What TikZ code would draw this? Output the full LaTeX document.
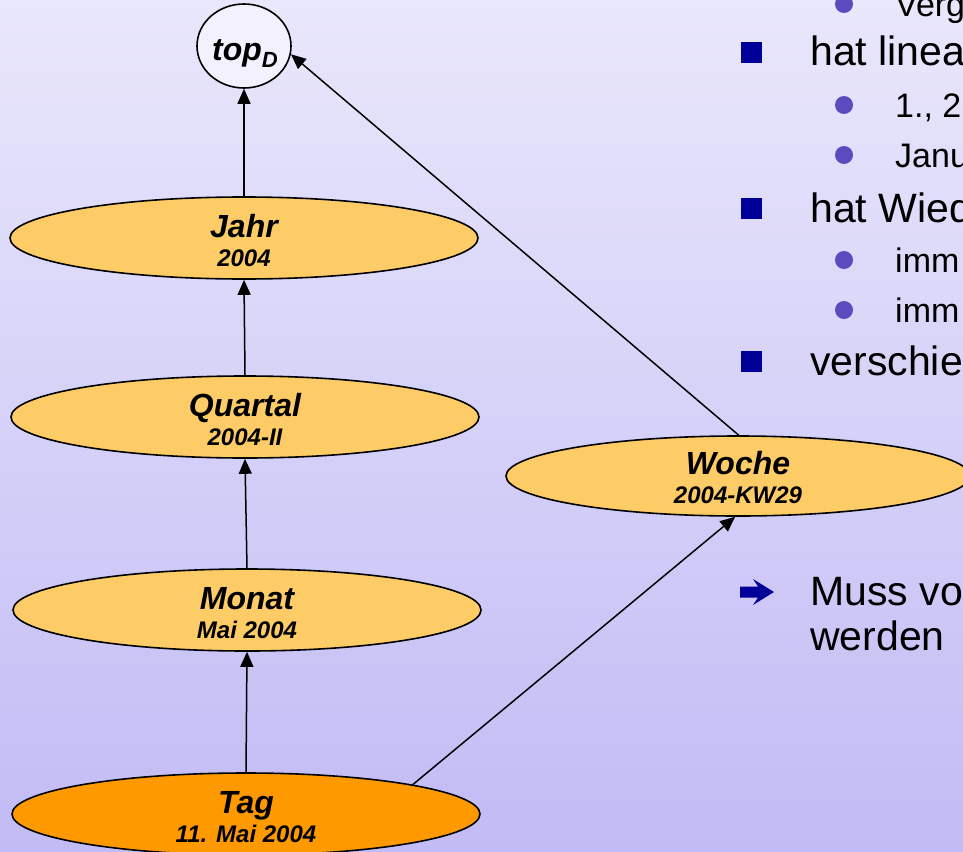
\documentclass[tikz,border=0pt]{standalone}
\usepackage{fontspec}
\setmainfont{Liberation Sans}
\usetikzlibrary{shapes.geometric,arrows.meta}
\definecolor{bgtop}{HTML}{E9E7FB}
\definecolor{bgbot}{HTML}{C2BBF5}
\definecolor{gold}{HTML}{FECC66}
\definecolor{orng}{HTML}{FF9900}
\definecolor{topfill}{HTML}{F2F1FD}
\definecolor{navy}{HTML}{000099}
\definecolor{violet}{HTML}{5A4CBE}
\tikzset{
  lvl/.style={ellipse, draw=black, line width=1.6pt, fill=gold, inner sep=0pt,
    minimum width=468pt, minimum height=82pt},
  ttl/.style={anchor=base, inner sep=0pt, font=\bfseries\itshape\fontsize{32}{32}\selectfont},
  subttl/.style={anchor=base, inner sep=0pt, font=\bfseries\itshape\fontsize{24}{24}\selectfont},
  conn/.style={line width=1.5pt, -{Triangle[length=15pt,width=13pt]}},
  maintext/.style={anchor=base west, inner sep=0pt, font=\fontsize{41}{45}\selectfont},
  subtext/.style={anchor=base west, inner sep=0pt, font=\fontsize{34}{40}\selectfont},
  sqbullet/.style={fill=navy},
  dotbullet/.style={fill=violet},
}
\begin{document}
\begin{tikzpicture}[x=1pt,y=-1pt]
\useasboundingbox (0,0) rectangle (963,851);
\clip (0,0) rectangle (963,851);
\shade[top color=bgtop, bottom color=bgbot] (0,0) rectangle (963,851);

% ellipses
\node[ellipse, draw=black, line width=1.6pt, fill=topfill, inner sep=0pt,
  minimum width=94pt, minimum height=84pt] (topd) at (244,46) {};
\node[lvl] (jahr) at (244,238) {};
\node[lvl] (quartal) at (245,417) {};
\node[lvl] (monat) at (247,610) {};
\node[lvl, fill=orng] (tag) at (246,814) {};
\node[lvl, minimum width=464pt, minimum height=80pt] (woche) at (738,476) {};

% labels
\node[ttl] (topdT) at (245,60) {top\raisebox{-7pt}{\fontsize{22}{22}\selectfont D}};
\node[ttl] (jahrT) at (244,237) {Jahr};
\node[subttl] (jahrS) at (244,266) {2004};
\node[ttl] (quartalT) at (245,416) {Quartal};
\node[subttl] (quartalS) at (245,445) {2004-II};
\node[ttl] (monatT) at (247,609) {Monat};
\node[subttl] (monatS) at (247,638) {Mai 2004};
\node[ttl] (tagT) at (246,813) {Tag};
\node[subttl] (tagS) at (246,842) {11. Mai 2004};
\node[ttl] (wocheT) at (738,474) {Woche};
\node[subttl] (wocheS) at (738,503) {2004-KW29};

% connectors
\draw[conn] (tag.north) -- (monat.south);
\draw[conn] (monat.north) -- (quartal.south);
\draw[conn] (quartal.north) -- (jahr.south);
\draw[conn] (jahr.north) -- (topd.south);
\draw[conn] (tag.10.6) -- (woche.266);
\draw[conn] (woche.89) -- (topd.-10.6);

% right-hand bullet text
\fill[dotbullet] (844,4) circle (9);
\node[subtext] (t0) at (895,17) {Verg};
\fill[sqbullet] (741,42) rectangle (762,63);
\node[maintext] (t1) at (810,66) {hat linea};
\fill[dotbullet] (844,105) circle (9);
\node[subtext] (t2) at (895,117) {1., 2};
\fill[dotbullet] (844,155) circle (9);
\node[subtext] (t3) at (895,167) {Janu};
\fill[sqbullet] (741,198) rectangle (762,219);
\node[maintext] (t4) at (810,222) {hat Wied};
\fill[dotbullet] (844,260) circle (9);
\node[subtext] (t5) at (895,272) {imm};
\fill[dotbullet] (844,310) circle (9);
\node[subtext] (t6) at (895,322) {imm};
\fill[sqbullet] (741,351) rectangle (762,372);
\node[maintext] (t7) at (810,375) {verschie};

\fill[navy] (740,586.5) -- (758,586.5) -- (753,579) -- (774,592) -- (753,605) -- (758,597.5) -- (740,597.5) -- cycle;
\node[maintext] (t8) at (810,605) {Muss vo};
\node[maintext] (t9) at (810,650) {werden};
\end{tikzpicture}
\end{document}
